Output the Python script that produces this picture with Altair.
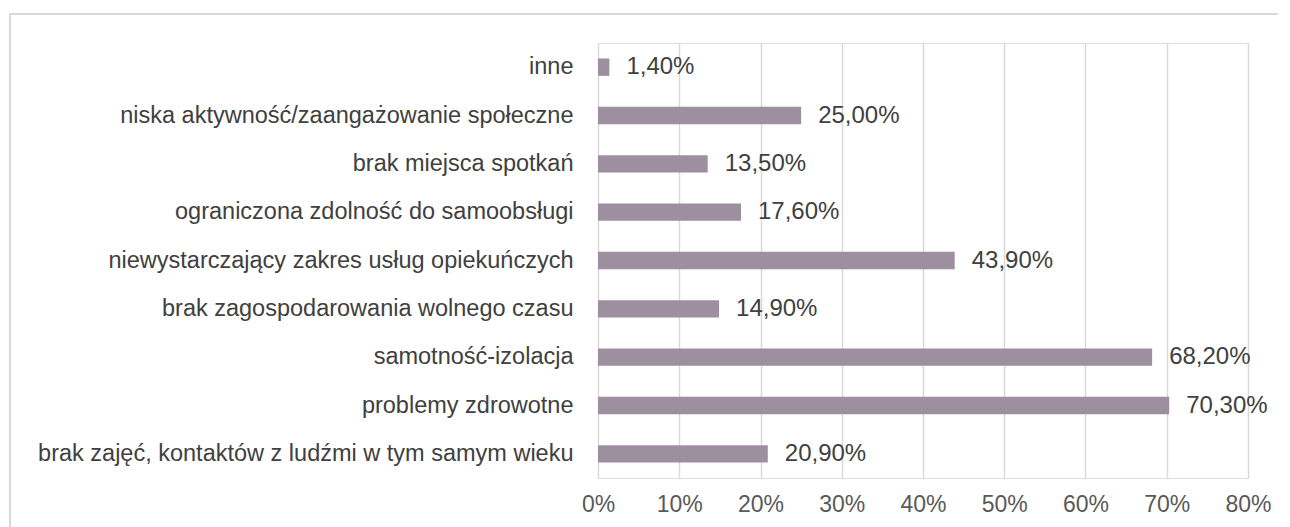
import altair as alt
import pandas as pd

categories = [
    "inne",
    "niska aktywność/zaangażowanie społeczne",
    "brak miejsca spotkań",
    "ograniczona zdolność do samoobsługi",
    "niewystarczający zakres usług opiekuńczych",
    "brak zagospodarowania wolnego czasu",
    "samotność-izolacja",
    "problemy zdrowotne",
    "brak zajęć, kontaktów z ludźmi w tym samym wieku",
]
values = [1.40, 25.00, 13.50, 17.60, 43.90, 14.90, 68.20, 70.30, 20.90]
tick_values = [0, 0.1, 0.2, 0.3, 0.4, 0.5, 0.6, 0.7, 0.8]

df = pd.DataFrame({"cat": categories, "v": values})

FONT = "Liberation Sans"
BAR = "#9e8fa0"

base = alt.Chart(df).transform_calculate(
    frac="datum.v / 100",
    lbl="replace(format(datum.v, '.2f'), '.', ',') + '%'",
)

y_enc = alt.Y(
    "cat:N",
    sort=categories,
    title=None,
    scale=alt.Scale(paddingInner=0.64, paddingOuter=0.32),
    axis=alt.Axis(
        domain=False,
        ticks=False,
        labelFont=FONT,
        labelFontSize=23.5,
        labelColor="#404040",
        labelPadding=25,
        labelLimit=700,
    ),
)
x_enc = alt.X(
    "frac:Q",
    title=None,
    scale=alt.Scale(domain=[0, 0.8], nice=False),
    axis=alt.Axis(
        format=".0%",
        values=tick_values,
        domain=False,
        ticks=False,
        grid=True,
        gridColor="#d9d9d9",
        gridWidth=1.5,
        labelFont=FONT,
        labelFontSize=23,
        labelColor="#595959",
        labelPadding=15,
        labelFlush=False,
        labelOverlap=False,
    ),
)

bars = base.mark_bar(color=BAR).encode(x=x_enc, y=y_enc)
texts = base.mark_text(
    align="left", baseline="middle", dx=17, font=FONT, fontSize=24, color="#404040"
).encode(x="frac:Q", y=alt.Y("cat:N", sort=categories), text="lbl:N")

frame = alt.Chart(df).mark_rect(
    fill=None, stroke="#d9d9d9", strokeWidth=2
).encode(
    x=alt.value(-588), x2=alt.value(720), y=alt.value(-29), y2=alt.value(600)
)

chart = (
    alt.layer(frame, bars, texts)
    .properties(
        width=650,
        height=435,
        padding={"left": 590, "top": 35, "right": 30, "bottom": 50},
        autosize=alt.AutoSizeParams(type="none"),
    )
    .configure_view(stroke=None)
    .configure(background="white")
)

chart.save("out.html", embed_options={"renderer": "svg", "actions": False})
